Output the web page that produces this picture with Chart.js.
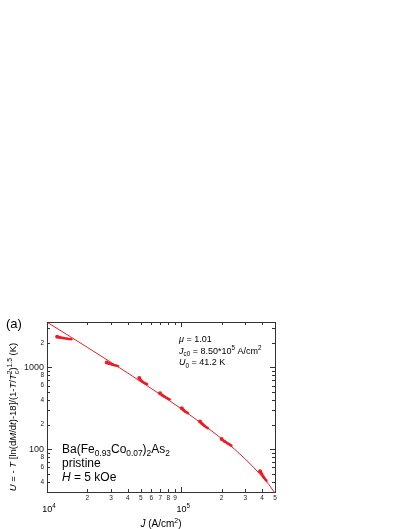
<!DOCTYPE html>
<html>
<head>
<meta charset="utf-8">
<script src="https://cdn.jsdelivr.net/npm/chart.js@4"></script>
<style>
  html, body { margin: 0; padding: 0; background: #fff; }
  canvas { display: block; }
</style>
</head>
<body>
<canvas id="ujChart" width="409" height="529"></canvas>
<script>
const FONT = "'Liberation Sans', Arial, sans-serif";

// measured relaxation points, one sub-array per temperature
const measJ = [
  [1.19e4, 1.25e4, 1.32e4, 1.42e4, 1.53e4],
  [2.79e4, 2.9e4, 3.05e4, 3.2e4, 3.4e4],
  [4.87e4, 5.0e4, 5.15e4, 5.35e4, 5.6e4],
  [6.95e4, 7.2e4, 7.5e4, 7.9e4, 8.25e4],
  [1.01e5, 1.04e5, 1.07e5, 1.1e5, 1.13e5],
  [1.38e5, 1.43e5, 1.48e5, 1.53e5, 1.59e5],
  [2.0e5, 2.1e5, 2.2e5, 2.3e5, 2.38e5],
  [3.87e5, 3.98e5, 4.1e5, 4.22e5, 4.34e5]
];
const measU = [
  [2380, 2330, 2290, 2250, 2220],
  [1150, 1120, 1090, 1065, 1040],
  [745, 700, 670, 645, 625],
  [485, 460, 440, 420, 405],
  [318, 302, 290, 282, 275],
  [218, 205, 195, 187, 180],
  [133, 125, 119, 114, 110],
  [54, 50, 46, 43, 41]
];

// fitted curve
const fitJ = [1e4, 1.5e4, 2e4, 3e4, 4e4, 5e4, 7e4, 1e5, 1.5e5, 2e5, 2.5e5, 3e5, 3.5e5, 4e5, 4.5e5, 5e5];
const fitU = [3580, 2370, 1760, 1155, 855, 672, 467, 313, 194, 135, 100, 76, 59, 46.5, 37, 29];

const jTicks = [1e4, 2e4, 3e4, 4e4, 5e4, 6e4, 7e4, 8e4, 9e4, 1e5, 2e5, 3e5, 4e5, 5e5];
const jMajor = [1e4, 1e5];
const uTicks = [30, 40, 50, 60, 70, 80, 90, 100, 200, 300, 400, 500, 600, 700, 800, 900, 1000, 2000, 3000];
const uMajor = [100, 1000];
const uLabelVals = [40, 60, 80, 100, 200, 400, 600, 800, 1000, 2000];
const uLabelText = ["4", "6", "8", "100", "2", "4", "6", "8", "1000", "2"];

const RED = "#ee1c24";
const INK = "#222";

function richWidth(ctx, parts, base) {
  let w = 0, prevX = 0, prevW = 0;
  parts.forEach(p => {
    const size = (p.sub || p.sup) ? base * 0.7 : base;
    ctx.font = (p.it ? "italic " : "") + size + "px " + FONT;
    const pw = ctx.measureText(p.t).width;
    if (p.over) { w = prevX + Math.max(prevW, pw); }
    else { prevX = w; prevW = pw; w += pw; }
  });
  return w;
}

function richText(ctx, parts, x, y, base) {
  let cx = x, prevX = x, prevW = 0;
  ctx.textBaseline = "alphabetic";
  ctx.textAlign = "left";
  parts.forEach(p => {
    const size = (p.sub || p.sup) ? base * 0.7 : base;
    ctx.font = (p.it ? "italic " : "") + size + "px " + FONT;
    const pw = ctx.measureText(p.t).width;
    const dy = p.sub ? base * 0.28 : p.sup ? -base * 0.42 : 0;
    if (p.over) {
      ctx.fillText(p.t, prevX, y + dy);
      cx = prevX + Math.max(prevW, pw);
    } else {
      ctx.fillText(p.t, cx, y + dy);
      prevX = cx; prevW = pw;
      cx += pw;
    }
  });
}

const framePlugin = {
  id: "frame",
  afterDraw(chart) {
    const ctx = chart.ctx;
    const { left, right, top, bottom } = chart.chartArea;
    const xs = chart.scales.x, ys = chart.scales.y;
    ctx.save();
    ctx.strokeStyle = "#333";
    ctx.lineWidth = 1;
    ctx.strokeRect(left + 0.5, top + 0.5, right - left, bottom - top);
    ctx.beginPath();
    jTicks.forEach(v => {
      const px = Math.round(xs.getPixelForValue(v)) + 0.5;
      const len = jMajor.includes(v) ? 5 : 3;
      ctx.moveTo(px, bottom); ctx.lineTo(px, bottom - len);
      ctx.moveTo(px, top); ctx.lineTo(px, top + len);
    });
    uTicks.forEach(v => {
      const py = Math.round(ys.getPixelForValue(v)) + 0.5;
      const len = uMajor.includes(v) ? 5 : 3;
      ctx.moveTo(left, py); ctx.lineTo(left + len, py);
      ctx.moveTo(right, py); ctx.lineTo(right - len, py);
    });
    ctx.stroke();

    ctx.fillStyle = "#000";
    // decade labels on x
    [[1e4, "4"], [1e5, "5"]].forEach(([v, e]) => {
      const parts = [{ t: "10" }, { t: e, sup: true }];
      const w = richWidth(ctx, parts, 9);
      const px = xs.getPixelForValue(v);
      richText(ctx, parts, px - w / 2 + 2, 512, 9);
    });

    // x title
    const xt = [{ t: "J", it: true }, { t: " (A/cm" }, { t: "2", sup: true }, { t: ")" }];
    const xw = richWidth(ctx, xt, 10);
    richText(ctx, xt, (left + right) / 2 - xw / 2, 527, 10);

    // y title
    const yt = [
      { t: "U", it: true }, { t: " = - " }, { t: "T", it: true }, { t: " [ln(d" },
      { t: "M", it: true }, { t: "/d" }, { t: "t", it: true }, { t: ")-18]/(1-" },
      { t: "T", it: true }, { t: "/" }, { t: "T", it: true }, { t: "c", sub: true },
      { t: "2", sup: true, over: true }, { t: ")" }, { t: "1.5", sup: true }, { t: " (K)" }
    ];
    const yw = richWidth(ctx, yt, 9.5);
    ctx.save();
    ctx.translate(16, 417);
    ctx.rotate(-Math.PI / 2);
    richText(ctx, yt, -yw / 2, 0, 9.5);
    ctx.restore();

    // panel label
    ctx.font = "13px " + FONT;
    ctx.textBaseline = "alphabetic";
    ctx.fillText("(a)", 6, 328);

    // fit parameters
    richText(ctx, [{ t: "\u03bc", it: true }, { t: " = 1.01" }], 179, 342, 9);
    richText(ctx, [{ t: "J", it: true }, { t: "c0", sub: true }, { t: " = 8.50*10" },
      { t: "5", sup: true }, { t: " A/cm" }, { t: "2", sup: true }], 179, 353.5, 9);
    richText(ctx, [{ t: "U", it: true }, { t: "0", sub: true }, { t: " = 41.2 K" }], 179, 365, 9);

    // sample description
    richText(ctx, [{ t: "Ba(Fe" }, { t: "0.93", sub: true }, { t: "Co" }, { t: "0.07", sub: true },
      { t: ")" }, { t: "2", sub: true }, { t: "As" }, { t: "2", sub: true }], 62, 453, 12);
    richText(ctx, [{ t: "pristine" }], 62, 467, 12);
    richText(ctx, [{ t: "H", it: true }, { t: " = 5 kOe" }], 62, 481, 12);
    ctx.restore();
  }
};

const measSets = measJ.map((js, i) => ({
  data: js.map((x, k) => ({ x: x, y: measU[i][k] })),
  borderColor: RED,
  backgroundColor: RED,
  borderWidth: 2.5,
  pointRadius: [2, 1.6, 1.3, 1, 1],
  pointBorderWidth: 0,
  tension: 0
}));

const ctx = document.getElementById("ujChart").getContext("2d");

new Chart(ctx, {
  type: "line",
  data: {
    datasets: [
      {
        data: fitJ.map((x, i) => ({ x: x, y: fitU[i] })),
        borderColor: RED,
        borderWidth: 1,
        pointRadius: 0,
        tension: 0
      },
      ...measSets
    ]
  },
  options: {
    responsive: false,
    animation: false,
    layout: { padding: { left: 0, top: 322, right: 134, bottom: 0 } },
    plugins: {
      legend: { display: false },
      tooltip: { enabled: false }
    },
    scales: {
      x: {
        type: "logarithmic",
        min: 1e4,
        max: 5e5,
        afterBuildTicks: s => { s.ticks = jTicks.map(v => ({ value: v })); },
        afterFit: s => { s.height = 37; },
        grid: { display: false, drawTicks: false },
        border: { display: false },
        ticks: {
          autoSkip: false,
          maxRotation: 0,
          padding: 2,
          color: INK,
          font: { family: FONT, size: 6.5 },
          callback: v => jMajor.includes(v) ? "" : String(Math.round(v / Math.pow(10, Math.floor(Math.log10(v) + 1e-9))))
        }
      },
      y: {
        type: "logarithmic",
        min: 30,
        max: 3600,
        afterBuildTicks: s => { s.ticks = uTicks.map(v => ({ value: v })); },
        afterFit: s => { s.width = 47; },
        grid: { display: false, drawTicks: false },
        border: { display: false },
        ticks: {
          autoSkip: false,
          padding: 3,
          color: INK,
          font: c => ({ family: FONT, size: (c.tick && uMajor.includes(c.tick.value)) ? 9 : 6.5 }),
          callback: v => {
            const i = uLabelVals.indexOf(v);
            return i >= 0 ? uLabelText[i] : "";
          }
        }
      }
    }
  },
  plugins: [framePlugin]
});
</script>
</body>
</html>
